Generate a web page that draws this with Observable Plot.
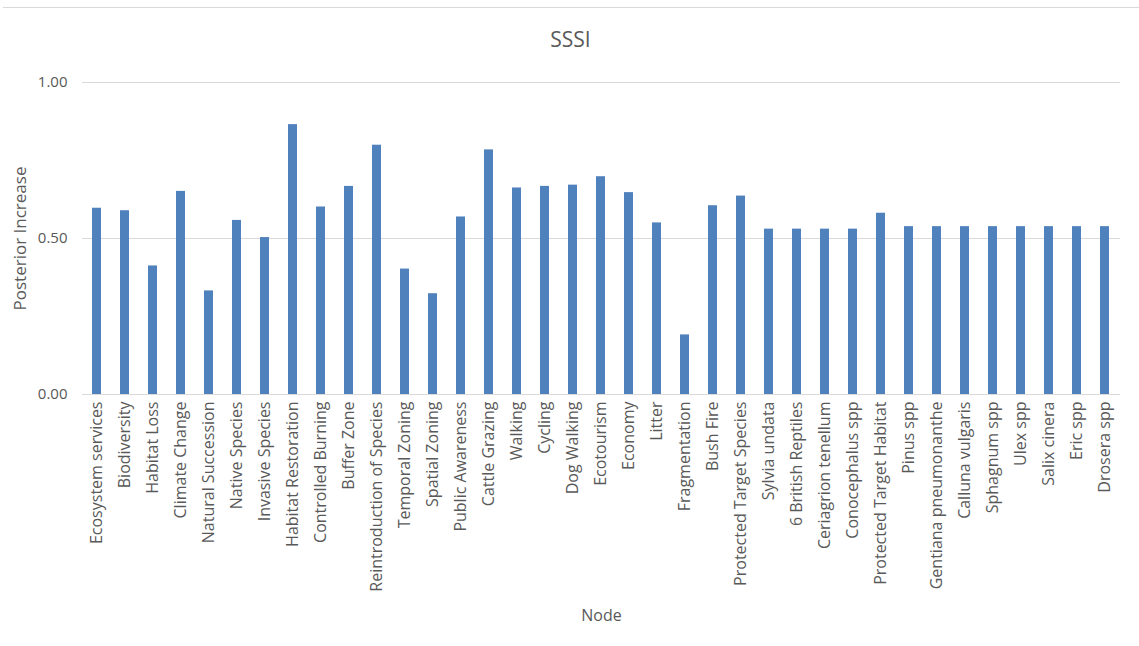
<!DOCTYPE html>
<html>
<head>
<meta charset="utf-8">
<script src="https://cdn.jsdelivr.net/npm/d3@7"></script>
<script src="https://cdn.jsdelivr.net/npm/@observablehq/plot@0.6"></script>
<style>
  body { margin: 0; background: #fff; font-family: "Open Sans", sans-serif; }
  #wrap { position: relative; width: 1139px; height: 646px; }
  #topline { position: absolute; left: 3px; top: 7px; width: 1136px; height: 1px; background: #d9d9d9; }
</style>
</head>
<body>
<div id="wrap"><div id="topline"></div><div id="chart"></div></div>
<script>
const nodes = [
  "Ecosystem services", "Biodiversity", "Habitat Loss", "Climate Change", "Natural Succession",
  "Native Species", "Invasive Species", "Habitat Restoration", "Controlled Burning", "Buffer Zone",
  "Reintroduction of Species", "Temporal Zoning", "Spatial Zoning", "Public Awareness", "Cattle Grazing",
  "Walking", "Cycling", "Dog Walking", "Ecotourism", "Economy",
  "Litter", "Fragmentation", "Bush Fire", "Protected Target Species", "Sylvia undata",
  "6 British Reptiles", "Ceriagrion tenellum", "Conocephalus spp", "Protected Target Habitat", "Pinus spp",
  "Gentiana pneumonanthe", "Calluna vulgaris", "Sphagnum spp", "Ulex spp", "Salix cinera",
  "Eric spp", "Drosera spp"
];
const posteriorIncrease = [
  0.597, 0.589, 0.412, 0.651, 0.332,
  0.558, 0.503, 0.865, 0.601, 0.667,
  0.799, 0.402, 0.323, 0.569, 0.784,
  0.662, 0.667, 0.671, 0.698, 0.647,
  0.550, 0.191, 0.605, 0.636, 0.530,
  0.530, 0.530, 0.530, 0.581, 0.538,
  0.538, 0.538, 0.538, 0.538, 0.538,
  0.538, 0.538
];
const yTicks = [0, 0.5, 1];
const chartTitle = "SSSI";
const xTitle = "Node";
const yTitle = "Posterior Increase";

const data = nodes.map((n, i) => ({node: n, value: posteriorIncrease[i]}));
const grey = "#595959";

const chart = Plot.plot({
  width: 1139,
  height: 646,
  marginLeft: 82,
  marginRight: 19,
  marginTop: 82,
  marginBottom: 252,
  style: { fontFamily: "Open Sans, sans-serif", color: grey, background: "#fff" },
  x: { domain: nodes, paddingInner: 0.67, paddingOuter: 0.335 },
  y: { domain: [0, 1] },
  marks: [
    Plot.gridY(yTicks, { stroke: "#d9d9d9", strokeOpacity: 1, strokeWidth: 1 }),
    Plot.barY(data, { x: "node", y: "value", fill: "#4f81bd" }),
    Plot.axisY(yTicks, { tickFormat: d3.format(".2f"), tickSize: 0, tickPadding: 15, fontSize: 15, fill: grey, label: null }),
    Plot.axisX({ tickRotate: -90, tickSize: 0, tickPadding: 7, fontSize: 16, fill: grey, label: null }),
    Plot.text([chartTitle], { frameAnchor: "top", lineAnchor: "middle", dy: -42, dx: -31, fontSize: 21, fill: grey, text: d => d }),
    Plot.text([xTitle], { frameAnchor: "bottom", lineAnchor: "middle", dy: 221, fontSize: 16, fill: grey, text: d => d }),
    Plot.text([yTitle], { frameAnchor: "left", textAnchor: "middle", lineAnchor: "middle", dx: -62, rotate: -90, fontSize: 17, fill: grey, text: d => d })
  ]
});
document.getElementById("chart").appendChild(chart);
</script>
</body>
</html>
